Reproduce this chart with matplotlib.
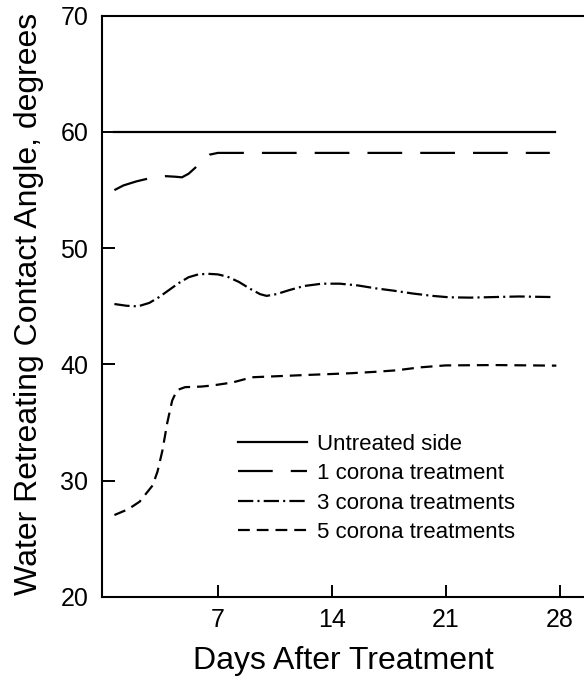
import matplotlib
matplotlib.use("Agg")
import matplotlib.pyplot as plt

plt.rcParams['font.family'] = ['Liberation Sans', 'DejaVu Sans']
plt.rcParams['lines.scale_dashes'] = False

# values (day, contact angle)
untreated_days = [0.65, 7, 14, 21, 27.7]
untreated_vals = [60.0, 60.0, 60.0, 60.0, 60.0]

one_days = [0.65, 1.2, 2.0, 2.9, 3.8, 4.4, 4.8, 5.2, 5.6, 6.0, 6.5, 7.0, 10, 14, 21, 27.4]
one_vals = [55.0, 55.4, 55.75, 56.05, 56.2, 56.15, 56.1, 56.4, 56.9, 57.5, 58.05, 58.2,
            58.2, 58.2, 58.2, 58.2]

three_days = [0.65, 1.4, 2.1, 2.8, 3.4, 4.0, 4.6, 5.2, 5.8, 6.4, 7.0, 7.6, 8.3, 9.0, 9.6,
              10.0, 10.6, 11.4, 12.3, 13.4, 14.5, 15.6, 16.7, 17.8, 19.0, 20.2, 21.2,
              22.5, 24.0, 25.5, 27.5]
three_vals = [45.2, 45.05, 45.0, 45.3, 45.8, 46.4, 47.0, 47.5, 47.75, 47.8, 47.75, 47.55,
              47.1, 46.5, 46.05, 45.9, 46.05, 46.4, 46.75, 46.95, 46.95, 46.8, 46.55,
              46.35, 46.1, 45.9, 45.78, 45.75, 45.8, 45.85, 45.8]

five_days = [0.65, 1.5, 2.2, 2.6, 3.0, 3.3, 3.6, 3.9, 4.2, 4.5, 5.0, 6.0, 6.7, 7.9, 9.1,
             10.8, 12.5, 13.8, 15.2, 16.7, 18.0, 19.4, 21.0, 24.0, 27.8]
five_vals = [27.05, 27.55, 28.2, 28.9, 29.6, 30.8, 32.6, 35.0, 36.9, 37.8, 38.05, 38.1,
             38.2, 38.45, 38.9, 39.0, 39.1, 39.17, 39.25, 39.37, 39.5, 39.75, 39.92,
             39.95, 39.9]

labels = ['Untreated side', '1 corona treatment', '3 corona treatments', '5 corona treatments']
x_ticks = [7, 14, 21, 28]
y_ticks = [20, 30, 40, 50, 60, 70]

fig = plt.figure(figsize=(5.84, 6.78), dpi=100)
ax = fig.add_axes([0.175, 0.1195, 0.825, 0.8573])

lw = 1.6
ax.plot(untreated_days, untreated_vals, color='black', lw=lw, linestyle='-', label=labels[0])
ax.plot(one_days, one_vals, color='black', lw=lw, linestyle=(0, (25, 13)), label=labels[1])
ax.plot(three_days, three_vals, color='black', lw=lw,
        linestyle=(0, (11, 3, 1.5, 3)), label=labels[2])
ax.plot(five_days, five_vals, color='black', lw=lw, linestyle=(0, (8.5, 5)), label=labels[3])

ax.set_xlim(-0.1, 29.5)
ax.set_ylim(20, 70)
ax.set_xticks(x_ticks)
ax.set_yticks(y_ticks)
ax.tick_params(direction='in', length=9, width=1.4, labelsize=18)
ax.tick_params(axis='y', pad=10)
ax.tick_params(axis='x', pad=8)
ax.spines['right'].set_visible(False)
for s in ['left', 'top', 'bottom']:
    ax.spines[s].set_linewidth(1.5)

ax.set_xlabel('Days After Treatment', fontsize=23, labelpad=10)
ax.set_ylabel('Water Retreating Contact Angle, degrees', fontsize=23)
ax.yaxis.set_label_coords(-0.12, 0.505)

ax.legend(loc='upper left', bbox_to_anchor=(0.258, 0.30), frameon=False, fontsize=16,
          handlelength=3.1, handletextpad=0.45, labelspacing=0.38, borderpad=0)

fig.savefig('out.png', dpi=100)
